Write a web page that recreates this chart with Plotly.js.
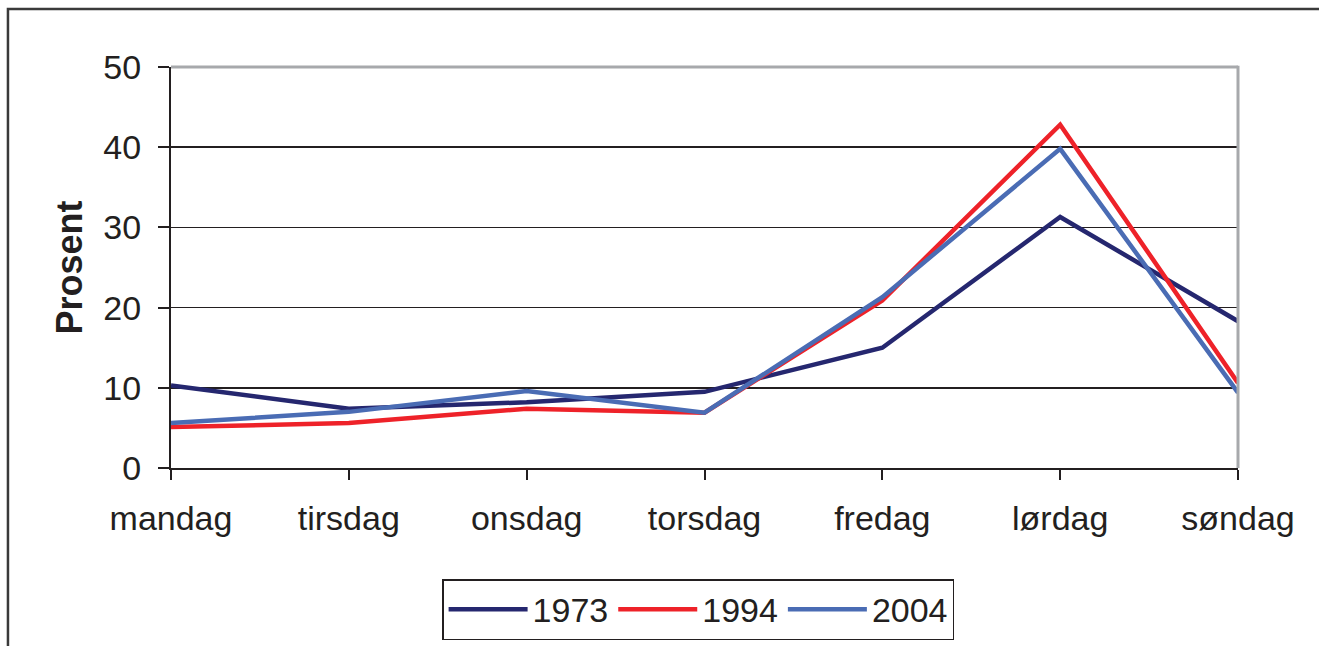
<!DOCTYPE html>
<html><head><meta charset="utf-8">
<script src="https://cdn.plot.ly/plotly-3.0.1.min.js"></script>
<style>body{margin:0;background:#fff}#c{width:1319px;height:646px}</style>
</head><body><div id="c"></div>
<script>
const days = ["mandag","tirsdag","onsdag","torsdag","fredag","lørdag","søndag"];
const s1973 = [10.3, 7.4, 8.2, 9.5, 15.0, 31.3, 18.3];
const s1994 = [5.1, 5.6, 7.4, 6.9, 20.9, 42.8, 10.6];
const s2004 = [5.6, 7.0, 9.6, 6.9, 21.3, 39.8, 9.4];
const yTicks = [0,10,20,30,40,50];

const idx = days.map((d,i)=>i);
const font = "Liberation Sans, Arial, sans-serif";
function tr(name, y, color){
  return {x: idx, y: y, name: name, type:'scatter', mode:'lines',
    line:{color: color, width: 4.5}, cliponaxis:false};
}
const data = [
  tr("1973", s1973, "#25276f"),
  tr("1994", s1994, "#ee2229"),
  tr("2004", s2004, "#4a6cb4")
];
const layout = {
  width:1319, height:646,
  margin:{l:171, r:81, t:67, b:178, autoexpand:false},
  paper_bgcolor:'#fff', plot_bgcolor:'#fff',
  font:{family: font, size:34, color:'#231f20'},
  showlegend:true,
  legend:{orientation:'h', x:0.494, xanchor:'center', y:-0.277, yanchor:'top',
    bordercolor:'#231f20', borderwidth:1.5, font:{size:34, family:font},
    itemwidth:79, tracegroupgap:0},
  xaxis:{range:[0,6], tickmode:'array', tickvals:idx, ticktext:days,
    showgrid:false, zeroline:false, showline:true, linecolor:'#231f20', linewidth:2,
    ticks:'outside', ticklen:10, tickwidth:2, tickcolor:'#231f20',
    ticklabelstandoff:9, fixedrange:true, automargin:false},
  yaxis:{range:[0,50], tickmode:'array', tickvals:yTicks,
    showgrid:true, gridcolor:'#231f20', gridwidth:1.5, zeroline:false,
    showline:true, linecolor:'#231f20', linewidth:2,
    ticks:'outside', ticklen:11, tickwidth:2, tickcolor:'#231f20',
    ticklabelstandoff:10, automargin:false,
    title:{text:'<b>Prosent</b>', font:{size:36, family:font}, standoff:10}},
  shapes:[
    {type:'line', xref:'paper', yref:'paper', x0:0, x1:1, y0:1, y1:1,
      line:{color:'#a7a9ac', width:3}},
    {type:'line', xref:'paper', yref:'paper', x0:1, x1:1, y0:0, y1:1.003,
      line:{color:'#a7a9ac', width:3}},
    {type:'rect', xref:'paper', yref:'paper', x0:-0.1528, x1:1.3, y0:-0.6, y1:1.1446,
      line:{color:'#3a3a3a', width:2.5}, layer:'below'}
  ]
};
Plotly.newPlot('c', data, layout, {staticPlot:true});
</script></body></html>
